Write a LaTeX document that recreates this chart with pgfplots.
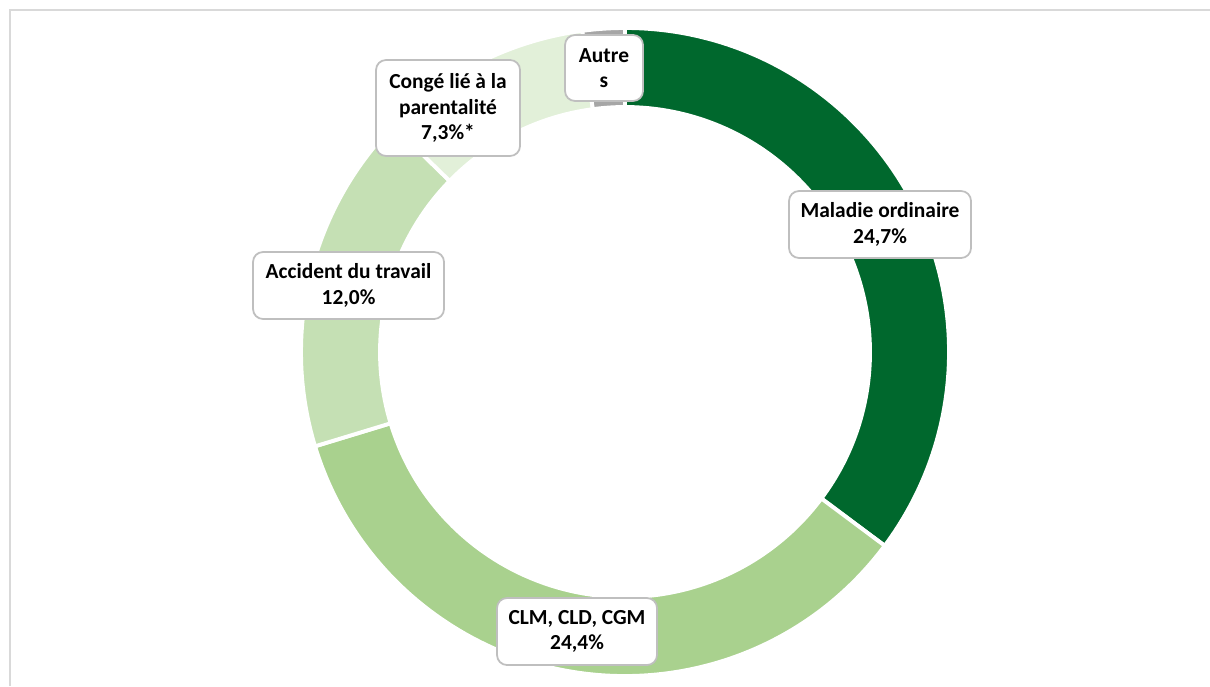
\documentclass[border=0pt]{standalone}
\usepackage{pgfplots}
\pgfplotsset{compat=1.18}
\usepackage{pgfplotstable}
\usepackage{fontspec}
\setmainfont{Carlito}
\definecolor{cMal}{RGB}{0,104,45}
\definecolor{cCLM}{RGB}{169,209,142}
\definecolor{cAcc}{RGB}{197,224,180}
\definecolor{cCon}{RGB}{226,240,217}
\definecolor{cAut}{RGB}{166,166,166}
\definecolor{cBox}{RGB}{191,191,191}
\definecolor{cFrame}{RGB}{217,217,217}
\pgfplotstableread{
label share
Maladie 35.2
CLM 35.1
Accident 17.0
Conge 10.6
Autres 2.1
}\sharetable
\newcommand{\sector}[3]{%
  \fill[#3, draw=white, line width=1.1pt]
    (axis cs:{625+324*cos(#1)},{334+324*sin(#1)})
    arc[start angle=#1, end angle=#2, radius=32.4mm]
    -- (axis cs:{625+245*cos(#2)},{334+245*sin(#2)})
    arc[start angle=#2, end angle=#1, radius=24.5mm] -- cycle;}
\tikzset{lbl/.style={draw=cBox, fill=white, rounded corners=1mm, line width=0.5pt,
  align=center, inner sep=0pt, font=\fontsize{6.1}{7.3}\selectfont\bfseries}}
\begin{document}
\begin{tikzpicture}
\pgfplotstablegetelem{0}{share}\of\sharetable \let\sA\pgfplotsretval
\pgfplotstablegetelem{1}{share}\of\sharetable \let\sB\pgfplotsretval
\pgfplotstablegetelem{2}{share}\of\sharetable \let\sC\pgfplotsretval
\pgfplotstablegetelem{3}{share}\of\sharetable \let\sD\pgfplotsretval
\pgfplotstablegetelem{4}{share}\of\sharetable \let\sE\pgfplotsretval
\pgfmathsetmacro\tot{\sA+\sB+\sC+\sD+\sE}
\pgfmathsetmacro\aA{90}
\pgfmathsetmacro\aB{\aA-360*\sA/\tot}
\pgfmathsetmacro\aC{\aB-360*\sB/\tot}
\pgfmathsetmacro\aD{\aC-360*\sC/\tot}
\pgfmathsetmacro\aE{\aD-360*\sD/\tot}
\pgfmathsetmacro\aF{\aE-360*\sE/\tot}
\begin{axis}[hide axis, x=0.1mm, y=0.1mm, scale only axis,
  xmin=0, xmax=1210, ymin=0, ymax=686, clip=false, at={(0,0)}, anchor=south west]
\draw[cFrame, line width=0.6pt] (axis cs:10,0) -- (axis cs:10,676) -- (axis cs:1210,676);
\sector{\aA}{\aB}{cMal}
\sector{\aB}{\aC}{cCLM}
\sector{\aC}{\aD}{cAcc}
\sector{\aD}{\aE}{cCon}
\sector{\aE}{\aF}{cAut}
\node[lbl, minimum width=7.8mm, minimum height=6.6mm] at (axis cs:604,618) {Autre\\s};
\node[lbl, minimum width=14.4mm, minimum height=9.6mm] at (axis cs:448,578) {Congé lié à la\\parentalité\\7,3\%*};
\node[lbl, minimum width=18.2mm, minimum height=6.7mm] at (axis cs:880,461.5) {Maladie ordinaire\\24,7\%};
\node[lbl, minimum width=19.1mm, minimum height=6.7mm] at (axis cs:348.5,400.5) {Accident du travail\\12,0\%};
\node[lbl, minimum width=16.0mm, minimum height=6.7mm] at (axis cs:577,54.5) {CLM, CLD, CGM\\24,4\%};
\end{axis}
\pgfresetboundingbox
\useasboundingbox (0,0) rectangle (121mm,68.6mm);
\end{tikzpicture}
\end{document}
